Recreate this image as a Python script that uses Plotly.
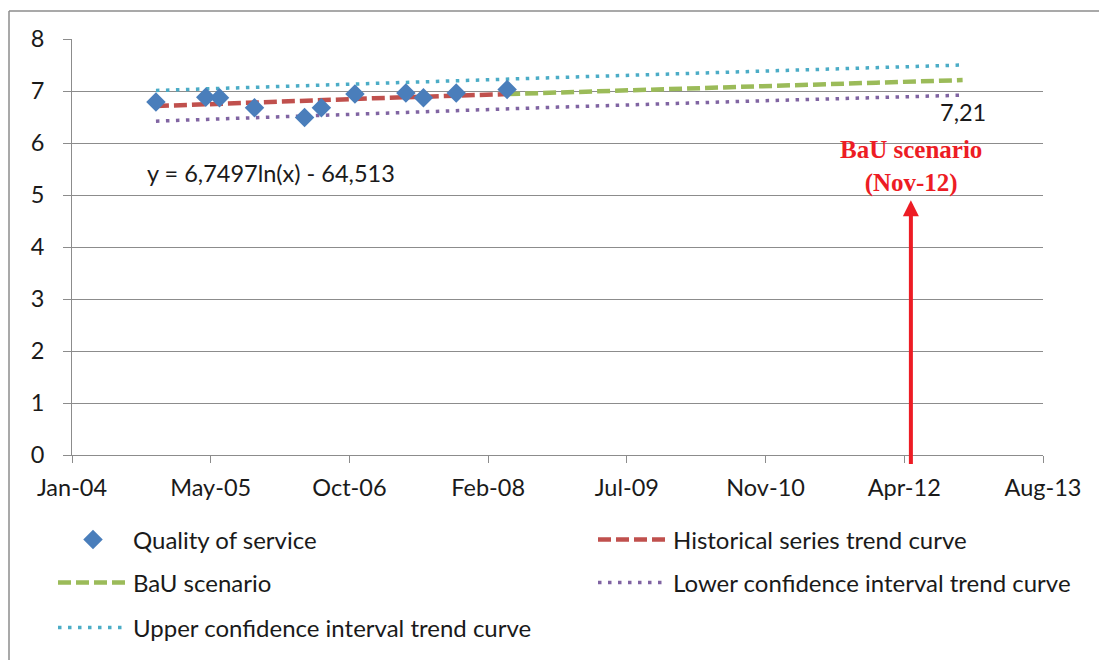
import plotly.graph_objects as go
import pandas as pd

# ---- data ----
quality_dates = ["2004-11-01", "2005-05-01", "2005-06-20", "2005-10-25", "2006-04-25",
                 "2006-06-25", "2006-10-25", "2007-04-28", "2007-07-01", "2007-10-28",
                 "2008-04-30"]
quality_vals = [6.79, 6.88, 6.87, 6.68, 6.49, 6.68, 6.94, 6.96, 6.87, 6.96, 7.03]

hist_dates = ["2004-11-01", "2005-06-20", "2006-04-25", "2007-01-01", "2007-10-28", "2008-04-30"]
hist_vals = [6.71, 6.76, 6.81, 6.86, 6.91, 6.94]

bau_dates = ["2008-04-30", "2009-04-01", "2010-03-01", "2011-02-01", "2012-01-01", "2012-11-10"]
bau_vals = [6.94, 7.00, 7.06, 7.11, 7.16, 7.21]

upper_dates = ["2004-11-01", "2006-11-01", "2008-11-01", "2010-11-01", "2012-11-10"]
upper_vals = [7.01, 7.14, 7.26, 7.38, 7.50]

lower_dates = ["2004-11-01", "2006-11-01", "2008-11-01", "2010-11-01", "2012-11-10"]
lower_vals = [6.42, 6.56, 6.69, 6.81, 6.92]

x_tick_labels = ["Jan-04", "May-05", "Oct-06", "Feb-08", "Jul-09", "Nov-10", "Apr-12", "Aug-13"]
y_ticks = [0, 1, 2, 3, 4, 5, 6, 7, 8]

series_names = ["Quality of service", "Historical series trend curve", "BaU scenario",
                "Lower confidence interval trend curve", "Upper confidence interval trend curve"]

bau_end_label = "7,21"
equation_text = "y = 6,7497ln(x) - 64,513"
arrow_label = "BaU scenario<br>(Nov-12)"
arrow_date = "2012-05-06"

# ---- styling ----
FONT = "Lato"
TXT = "#1a1a1a"
GRID = "#8c8c8c"
W, H = 1099, 660

tick_dates = [d.strftime("%Y-%m-%d") for d in
              pd.date_range("2004-01-01", periods=len(x_tick_labels), freq="504D")]

fig = go.Figure()

fig.add_trace(go.Scatter(
    x=hist_dates, y=hist_vals, mode="lines", name=series_names[1],
    line=dict(color="#c0504d", width=4.5, dash="13px,5px"), legend="legend2"))
fig.add_trace(go.Scatter(
    x=bau_dates, y=bau_vals, mode="lines", name=series_names[2],
    line=dict(color="#9bbb59", width=4.5, dash="13px,5px"), legend="legend3"))
fig.add_trace(go.Scatter(
    x=lower_dates, y=lower_vals, mode="lines", name=series_names[3],
    line=dict(color="#8064a2", width=3.5, dash="3.5px,6.5px"), legend="legend4"))
fig.add_trace(go.Scatter(
    x=upper_dates, y=upper_vals, mode="lines", name=series_names[4],
    line=dict(color="#4bacc6", width=3.5, dash="3.5px,6.5px"), legend="legend5"))
fig.add_trace(go.Scatter(
    x=quality_dates, y=quality_vals, mode="markers", name=series_names[0],
    marker=dict(symbol="diamond", size=15, color="#4a7ebb"),
    legend="legend", showlegend=True))

def leg(x, y):
    return dict(x=x / W, y=1 - y / H, xref="container", yref="container",
                xanchor="left", yanchor="middle", bgcolor="rgba(0,0,0,0)",
                font=dict(family=FONT, size=24, color=TXT), itemwidth=70, visible=True)

fig.update_layout(
    width=W, height=H,
    margin=dict(l=72, r=56, t=39, b=205, autoexpand=False),
    paper_bgcolor="white", plot_bgcolor="white",
    font=dict(family=FONT, size=22, color=TXT),
    showlegend=True,
    legend=leg(53, 540),
    legend2=leg(593, 540),
    legend3=leg(53, 583),
    legend4=leg(593, 583),
    legend5=leg(53, 628),
)

fig.update_xaxes(
    type="date", range=["2004-01-01", "2013-08-29"],
    tickvals=tick_dates, ticktext=x_tick_labels,
    showgrid=False, showline=True, linecolor=GRID, linewidth=1,
    ticks="outside", ticklen=7, tickcolor=GRID,
    tickfont=dict(family=FONT, size=23.5, color=TXT), ticklabelstandoff=5,
    zeroline=False)
fig.update_yaxes(
    range=[0, 8], tickvals=y_ticks,
    showgrid=True, gridcolor=GRID, gridwidth=1,
    showline=True, linecolor=GRID, linewidth=1,
    ticks="outside", ticklen=8, tickcolor=GRID,
    tickfont=dict(family=FONT, size=23.5, color=TXT), ticklabelstandoff=14,
    zeroline=False)

fig.add_annotation(x=arrow_date, y=4.9, ax=arrow_date, ay=-0.2, axref="x", ayref="y",
                   xref="x", yref="y", showarrow=True, arrowhead=2, arrowsize=0.8,
                   arrowwidth=4, arrowcolor="#ed1c24", text="")
fig.add_annotation(x=arrow_date, y=5.55, xref="x", yref="y", text=arrow_label,
                   showarrow=False, xanchor="center", yanchor="middle",
                   font=dict(family="Liberation Serif", size=25, color="#ed1c24",
                             weight="bold"))
fig.add_annotation(x=bau_dates[-1], y=6.6, xref="x", yref="y", text=bau_end_label,
                   showarrow=False, xanchor="center", yanchor="middle",
                   font=dict(family=FONT, size=23.5, color=TXT))
fig.add_annotation(x="2004-09-22", y=5.42, xref="x", yref="y", text=equation_text,
                   showarrow=False, xanchor="left", yanchor="middle",
                   font=dict(family=FONT, size=23.5, color=TXT))

# chart frame (left and top edges visible in the reference)
fig.add_shape(type="line", xref="paper", yref="paper",
              x0=(9 - 72) / 971, x1=(9 - 72) / 971, y0=(455 - 662) / 416, y1=(455 - 11) / 416,
              line=dict(color="#8c8c8c", width=1.5))
fig.add_shape(type="line", xref="paper", yref="paper",
              x0=(9 - 72) / 971, x1=(1101 - 72) / 971, y0=(455 - 11) / 416, y1=(455 - 11) / 416,
              line=dict(color="#8c8c8c", width=1.5))

fig.write_html("out.html")
